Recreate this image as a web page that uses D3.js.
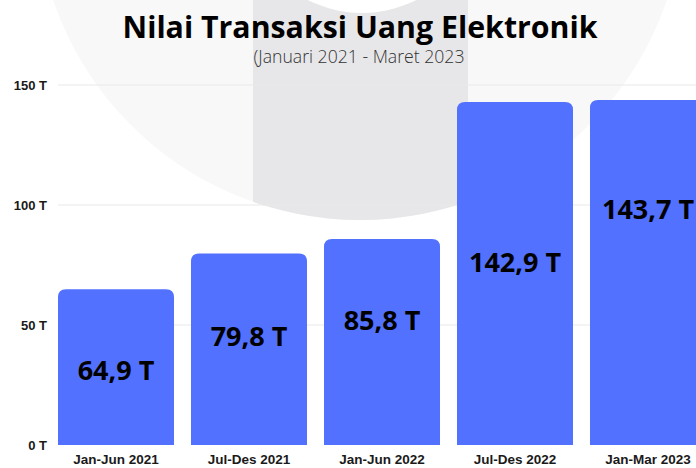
<!DOCTYPE html>
<html>
<head>
<meta charset="utf-8">
<script src="https://cdn.jsdelivr.net/npm/d3@7"></script>
<style>
  html, body { margin: 0; padding: 0; background: #fff; }
  svg { display: block; }
</style>
</head>
<body>
<svg width="696" height="468"></svg>
<script>
// data
const periods = ["Jan-Jun 2021", "Jul-Des 2021", "Jan-Jun 2022", "Jul-Des 2022", "Jan-Mar 2023"];
const values = [64.9, 79.8, 85.8, 142.9, 143.7];
const valueLabels = ["64,9 T", "79,8 T", "85,8 T", "142,9 T", "143,7 T"];
// level (in T) where each value label sits, as placed in the original
const labelLevels = [31, 45, 52, 76, 98];
const yTicks = [0, 50, 100, 150];

const width = 696, height = 468;
const svg = d3.select("svg");

// faint logo watermark behind the chart
const defs = svg.append("defs");
defs.append("clipPath").attr("id", "wm")
  .append("circle").attr("cx", 360).attr("cy", -104).attr("r", 324);

const wm = svg.append("g");
wm.append("circle")
  .attr("cx", 360).attr("cy", -104).attr("r", 324)
  .attr("fill", "#f8f8f8");
wm.append("rect")
  .attr("x", 253).attr("y", 0).attr("width", 215).attr("height", 240)
  .attr("fill", "#e7e7e9")
  .attr("clip-path", "url(#wm)");
wm.append("circle")
  .attr("cx", 362).attr("cy", -107).attr("r", 120)
  .attr("fill", "#fff");

// scales
const y = d3.scaleLinear().domain([0, 150]).range([445, 85]);
const step = 133, pad = 17 / 133;
const x = d3.scaleBand()
  .domain(periods)
  .range([58 - step * pad / 2, 58 - step * pad / 2 + step * periods.length])
  .paddingInner(pad)
  .paddingOuter(pad / 2);

// gridlines
svg.append("g")
  .selectAll("line")
  .data(yTicks.filter(d => d > 0))
  .join("line")
  .attr("x1", 58).attr("x2", width)
  .attr("y1", d => y(d)).attr("y2", d => y(d))
  .attr("stroke", "#e9e9e9")
  .attr("stroke-width", 1);

// y axis labels
const yAxis = svg.append("g")
  .attr("transform", "translate(47,0)")
  .call(d3.axisLeft(y).tickValues(yTicks).tickSize(0).tickPadding(0).tickFormat(d => d + " T"));
yAxis.select(".domain").remove();
yAxis.selectAll("text")
  .attr("font-family", "'Liberation Sans', Arial, sans-serif")
  .attr("font-weight", "bold")
  .attr("font-size", 13)
  .attr("fill", "#1a1a1a");

// bars with rounded tops
const r = 8;
function barPath(d, i) {
  const x0 = x(periods[i]), w = x.bandwidth();
  const top = y(d), base = y(0);
  return `M${x0},${base} V${top + r} Q${x0},${top} ${x0 + r},${top} H${x0 + w - r} Q${x0 + w},${top} ${x0 + w},${top + r} V${base} Z`;
}
svg.append("g")
  .selectAll("path")
  .data(values)
  .join("path")
  .attr("d", barPath)
  .attr("fill", "#5271ff");

// value labels
svg.append("g")
  .selectAll("text")
  .data(valueLabels)
  .join("text")
  .attr("x", (d, i) => x(periods[i]) + x.bandwidth() / 2)
  .attr("y", (d, i) => y(labelLevels[i]))
  .attr("dy", "0.35em")
  .attr("text-anchor", "middle")
  .attr("font-family", "'Open Sans', sans-serif")
  .attr("font-weight", "bold")
  .attr("font-size", 27)
  .attr("fill", "#000")
  .text(d => d);

// x axis labels
const xAxis = svg.append("g")
  .attr("transform", "translate(0,445)")
  .call(d3.axisBottom(x).tickSize(0).tickPadding(9));
xAxis.select(".domain").remove();
xAxis.selectAll("text")
  .attr("font-family", "'Liberation Sans', Arial, sans-serif")
  .attr("font-weight", "bold")
  .attr("font-size", 13.5)
  .attr("fill", "#1a1a1a");

// title
svg.append("text")
  .attr("x", 360).attr("y", 38)
  .attr("text-anchor", "middle")
  .attr("font-family", "'Open Sans', sans-serif")
  .attr("font-weight", "bold")
  .attr("font-size", 30)
  .attr("textLength", 475)
  .attr("lengthAdjust", "spacingAndGlyphs")
  .attr("fill", "#000")
  .text("Nilai Transaksi Uang Elektronik");

svg.append("text")
  .attr("x", 359).attr("y", 63)
  .attr("text-anchor", "middle")
  .attr("font-family", "'Open Sans', sans-serif")
  .attr("font-weight", 300)
  .attr("font-size", 17.5)
  .attr("textLength", 211)
  .attr("lengthAdjust", "spacingAndGlyphs")
  .attr("fill", "#333")
  .text("(Januari 2021 - Maret 2023");
</script>
</body>
</html>
